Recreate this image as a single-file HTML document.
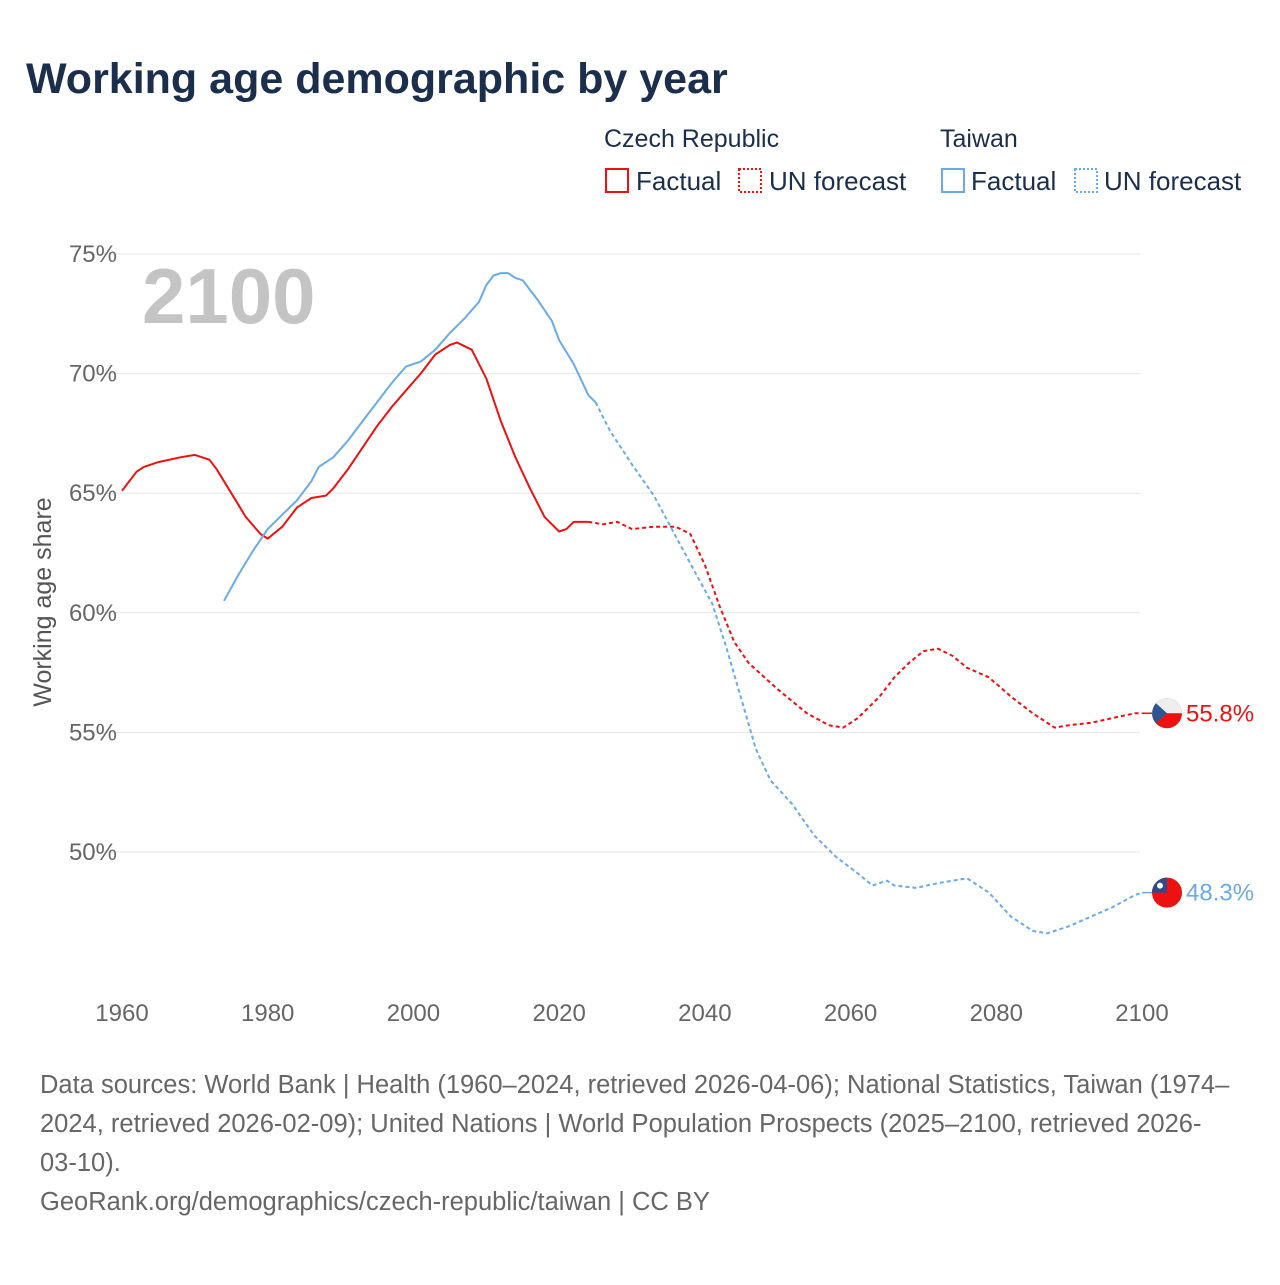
<!DOCTYPE html>
<html><head><meta charset="utf-8"><style>
body{margin:0;background:#fff;width:1280px;height:1280px;overflow:hidden;font-family:"Liberation Sans",sans-serif}
</style></head><body>
<svg width="1280" height="1280" xmlns="http://www.w3.org/2000/svg">
<text x="26" y="93" font-size="43" font-weight="bold" fill="#1b2f4c">Working age demographic by year</text>
<g font-size="26" fill="#1b2f4c">
<text x="604" y="147" font-size="25">Czech Republic</text>
<text x="940" y="147" font-size="25">Taiwan</text>
<rect x="606" y="169" width="22" height="23" fill="none" stroke="#ee1111" stroke-width="2"/>
<text x="636" y="190">Factual</text>
<rect x="739" y="169" width="22" height="23" fill="none" stroke="#ee1111" stroke-width="2" stroke-dasharray="2,2"/>
<text x="769" y="190">UN forecast</text>
<rect x="942" y="169" width="22" height="23" fill="none" stroke="#6aaae8" stroke-width="2"/>
<text x="971" y="190">Factual</text>
<rect x="1075" y="169" width="22" height="23" fill="none" stroke="#6aaae8" stroke-width="2" stroke-dasharray="2,2"/>
<text x="1104" y="190">UN forecast</text>
</g>
<g id="grid"></g>
<text x="142" y="323" font-size="78" font-weight="bold" fill="#c4c4c4">2100</text>
<text transform="translate(51,602) rotate(-90)" text-anchor="middle" font-size="25" fill="#555">Working age share</text>
<g id="series"></g>
<g font-size="25.5" fill="#666">
<text x="40" y="1093">Data sources: World Bank | Health (1960–2024, retrieved 2026-04-06); National Statistics, Taiwan (1974–</text>
<text x="40" y="1132">2024, retrieved 2026-02-09); United Nations | World Population Prospects (2025–2100, retrieved 2026-</text>
<text x="40" y="1171">03-10).</text>
<text x="40" y="1210">GeoRank.org/demographics/czech-republic/taiwan | CC BY</text>
</g>
</svg>
<script>
const yTicks=[50,55,60,65,70,75];
const xTicks=[1960,1980,2000,2020,2040,2060,2080,2100];
const czYears=[1960,1962,1963,1965,1968,1970,1972,1973,1975,1977,1979,1980,1982,1984,1986,1988,1989,1991,1993,1995,1997,1999,2001,2003,2005,2006,2008,2010,2012,2014,2016,2018,2020,2021,2022,2024];
const czVals=[65.1,65.9,66.1,66.3,66.5,66.6,66.4,66.0,65.0,64.0,63.3,63.1,63.6,64.4,64.8,64.9,65.2,66.0,66.9,67.8,68.6,69.3,70.0,70.8,71.2,71.3,71.0,69.8,68.0,66.5,65.2,64.0,63.4,63.5,63.8,63.8];
const czFYears=[2024,2026,2028,2030,2033,2036,2038,2040,2042,2044,2046,2050,2054,2057,2059,2061,2064,2066,2068,2070,2072,2074,2076,2079,2082,2085,2088,2090,2093,2096,2099,2100];
const czFVals=[63.8,63.7,63.8,63.5,63.6,63.6,63.3,62.0,60.3,58.8,57.9,56.8,55.8,55.3,55.2,55.6,56.5,57.3,57.9,58.4,58.5,58.2,57.7,57.3,56.5,55.8,55.2,55.3,55.4,55.6,55.8,55.8];
const twYears=[1974,1976,1978,1980,1982,1984,1986,1987,1989,1991,1993,1995,1997,1999,2001,2003,2005,2007,2009,2010,2011,2012,2013,2014,2015,2017,2019,2020,2022,2024,2025];
const twVals=[60.5,61.6,62.6,63.5,64.1,64.7,65.5,66.1,66.5,67.2,68.0,68.8,69.6,70.3,70.5,71.0,71.7,72.3,73.0,73.7,74.1,74.2,74.2,74.0,73.9,73.1,72.2,71.4,70.4,69.1,68.8];
const twFYears=[2025,2027,2030,2033,2036,2039,2041,2043,2045,2047,2049,2052,2055,2058,2061,2063,2065,2066,2069,2072,2076,2079,2082,2085,2087,2090,2093,2096,2099,2100];
const twFVals=[68.8,67.6,66.2,64.9,63.2,61.5,60.4,58.5,56.4,54.3,53.0,52.0,50.7,49.8,49.1,48.6,48.8,48.6,48.5,48.7,48.9,48.3,47.3,46.7,46.6,46.9,47.3,47.7,48.2,48.3];
const X=y=>122+(y-1960)*1020/140;
const Y=v=>254+(75-v)*598/25;
const NS="http://www.w3.org/2000/svg";
const grid=document.getElementById('grid'),ser=document.getElementById('series');
function mk(t,a,p){const e=document.createElementNS(NS,t);for(const k in a)e.setAttribute(k,a[k]);p.appendChild(e);return e;}
yTicks.forEach(v=>{
 const l=mk('line',{x1:95,x2:1140,y1:Y(v),y2:Y(v),stroke:'#e6e6e6','stroke-width':1},grid);
 
 
 const t=mk('text',{x:117,y:Y(v)+8,'text-anchor':'end','font-size':24,fill:'#666'},grid);
 t.textContent=v+'%';
 
 
});
xTicks.forEach(y=>{
 const t=mk('text',{x:X(y),y:1021,'text-anchor':'middle','font-size':24,fill:'#666'},grid);
 t.textContent=y;
 
 
});
function line(xs,vs,color,dash,name){
 const d=xs.map((x,i)=>(i?'L':'M')+X(x).toFixed(1)+','+Y(vs[i]).toFixed(1)).join('');
 const p=mk('path',{d:d,fill:'none',stroke:color,'stroke-width':2,'stroke-linejoin':'round'},ser);
 if(dash)p.setAttribute('stroke-dasharray','4,3');
 
 
}
line(czYears,czVals,'#ee1111',false,'czech-factual-line');
line(czFYears,czFVals,'#ee1111',true,'czech-forecast-line');
line(twYears,twVals,'#6aaae8',false,'taiwan-factual-line');
line(twFYears,twFVals,'#6aaae8',true,'taiwan-forecast-line');
function endLabel(v,color,name,flag){
 const y=Y(v),cx=1167;
 const g=mk('g',{},ser);
 
 
 mk('line',{x1:X(2100),x2:cx,y1:y,y2:y,stroke:color,'stroke-width':1.5},g);
 if(flag==='cz'){
  mk('circle',{cx:cx,cy:y,r:15,fill:'#ee1111'},g);
  mk('path',{d:`M${cx-15},${y} A15,15 0 0 1 ${cx+15},${y} Z`,fill:'#eeeeee'},g);
  mk('path',{d:`M${cx-11},${y-10} L${cx},${y} L${cx-11},${y+10} A15,15 0 0 1 ${cx-11},${y-10}Z`,fill:'#2d5694'},g);
 } else {
  mk('circle',{cx:cx,cy:y,r:15,fill:'#ee1111'},g);
  mk('path',{d:`M${cx},${y-15} L${cx},${y} L${cx-15},${y} A15,15 0 0 1 ${cx},${y-15}Z`,fill:'#2d4a8a'},g);
  mk('circle',{cx:cx-7,cy:y-7,r:3,fill:'#fff'},g);
 }
 const t=mk('text',{x:1186,y:y+8,'font-size':24,fill:color},g);
 t.textContent=v.toFixed(1)+'%';
}
endLabel(czFVals[czFVals.length-1],'#ee1111','czech-end-label','cz');
endLabel(twFVals[twFVals.length-1],'#6aaae8','taiwan-end-label','tw');
</script>
</body></html>
